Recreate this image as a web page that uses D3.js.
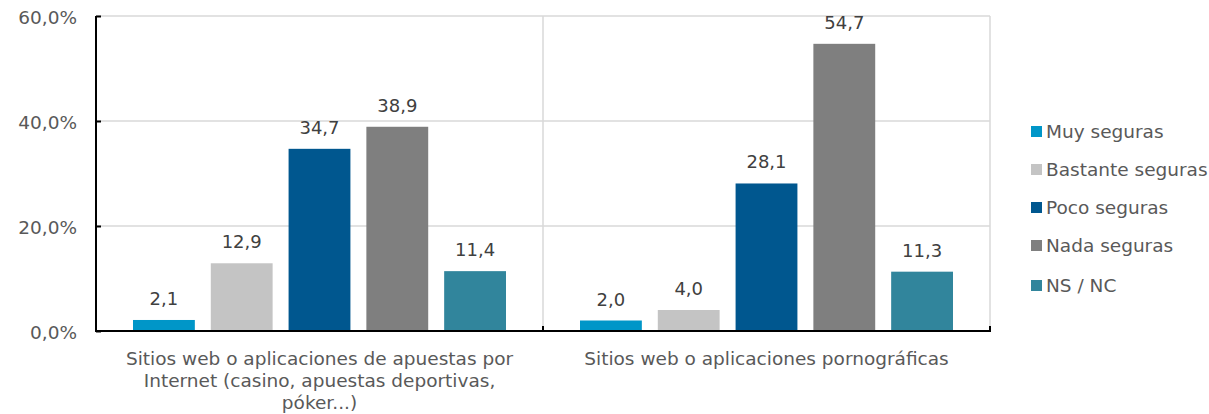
<!DOCTYPE html>
<html><head><meta charset="utf-8">
<script src="https://cdn.jsdelivr.net/npm/d3@7"></script>
<style>body{margin:0;background:#fff}svg{display:block}text{font-family:"DejaVu Sans",Verdana,sans-serif}</style>
</head><body><svg id="c" width="1209" height="414"></svg>
<script>
const categories = [
  ["Sitios web o aplicaciones de apuestas por","Internet (casino, apuestas deportivas,","póker...)"],
  ["Sitios web o aplicaciones pornográficas"]
];
const series = ["Muy seguras","Bastante seguras","Poco seguras","Nada seguras","NS / NC"];
const colors = ["#0096C8","#C4C4C4","#00578F","#7F7F7F","#31859C"];
const muySeguras = [2.1, 2.0];
const bastanteSeguras = [12.9, 4.0];
const pocoSeguras = [34.7, 28.1];
const nadaSeguras = [38.9, 54.7];
const nsnc = [11.4, 11.3];
const yTicks = [0, 20, 40, 60];

const FONT = "'DejaVu Sans', Verdana, sans-serif";
const values = [muySeguras, bastanteSeguras, pocoSeguras, nadaSeguras, nsnc];
const svg = d3.select("#c");
const L = 96, R = 990, T = 16, B = 331;
const x0 = d3.scaleBand().domain([0,1]).range([L, R]).paddingInner(0).paddingOuter(0);
const x1 = d3.scaleBand().domain(d3.range(series.length)).range([37, x0.bandwidth()-37]).paddingInner(16/78).paddingOuter(0);
const y = d3.scaleLinear().domain([0, 60]).range([B, T]);
const fmt = v => v.toFixed(1).replace(".", ",");

// grid
svg.append("g").selectAll("line").data(yTicks.filter(d=>d>0)).join("line")
  .attr("x1", L).attr("x2", R).attr("y1", d=>y(d)).attr("y2", d=>y(d))
  .attr("stroke", "#d9d9d9").attr("stroke-width", 1.5);
svg.append("g").selectAll("line").data([x0(1), R]).join("line")
  .attr("x1", d=>d).attr("x2", d=>d).attr("y1", T).attr("y2", B)
  .attr("stroke", "#d9d9d9").attr("stroke-width", 1.5);

// bars
series.forEach((s, si) => {
  const g = svg.append("g");
  g.selectAll("rect").data(values[si]).join("rect")
    .attr("x", (d, ci) => x0(ci) + x1(si))
    .attr("width", x1.bandwidth())
    .attr("y", d => y(d)).attr("height", d => B - y(d))
    .attr("fill", colors[si]);
  g.selectAll("text").data(values[si]).join("text")
    .attr("x", (d, ci) => x0(ci) + x1(si) + x1.bandwidth()/2)
    .attr("y", d => y(d) - 15)
    .attr("text-anchor", "middle").attr("font-size", 18).attr("fill", "#404040")
    .text(fmt);
});

// y axis
const ya = d3.axisLeft(y).tickValues(yTicks).tickSize(-5).tickPadding(18).tickFormat(d => d.toFixed(1).replace(".", ",") + "%");
const yg = svg.append("g").attr("transform", `translate(${L},0)`).call(ya);
yg.select(".domain").attr("stroke", "#000").attr("stroke-width", 2).attr("d", `M0,${T}V${B}`);
yg.selectAll(".tick line").attr("stroke", "#000").attr("stroke-width", 2);
yg.selectAll(".tick text").attr("font-size", 18.5).attr("fill", "#595959").attr("font-family", FONT).attr("x", -19).attr("dy", "0.42em");

// x axis line & ticks
const xg = svg.append("g");
xg.append("line").attr("x1", L-1).attr("x2", R+1).attr("y1", B).attr("y2", B).attr("stroke", "#000").attr("stroke-width", 2);
xg.selectAll("line.t").data([L, x0(1), R]).join("line").attr("class","t")
  .attr("x1", d=>d).attr("x2", d=>d).attr("y1", B-5).attr("y2", B).attr("stroke", "#000").attr("stroke-width", 2);

// category labels
categories.forEach((lines, ci) => {
  const t = svg.append("text").attr("text-anchor", "middle").attr("font-size", 18.5).attr("fill", "#595959");
  lines.forEach((ln, li) => {
    t.append("tspan").attr("x", x0(ci) + x0.bandwidth()/2).attr("y", 364.5 + li*22).text(ln);
  });
});

// legend
const ly = [131, 169, 207, 245, 285];
const lg = svg.append("g");
series.forEach((s, si) => {
  lg.append("rect").attr("x", 1031).attr("y", ly[si]-5).attr("width", 11).attr("height", 11).attr("fill", colors[si]);
  lg.append("text").attr("x", 1046).attr("y", ly[si] + 7).attr("font-size", 18.5).attr("fill", "#595959").text(s);
});
</script></body></html>
